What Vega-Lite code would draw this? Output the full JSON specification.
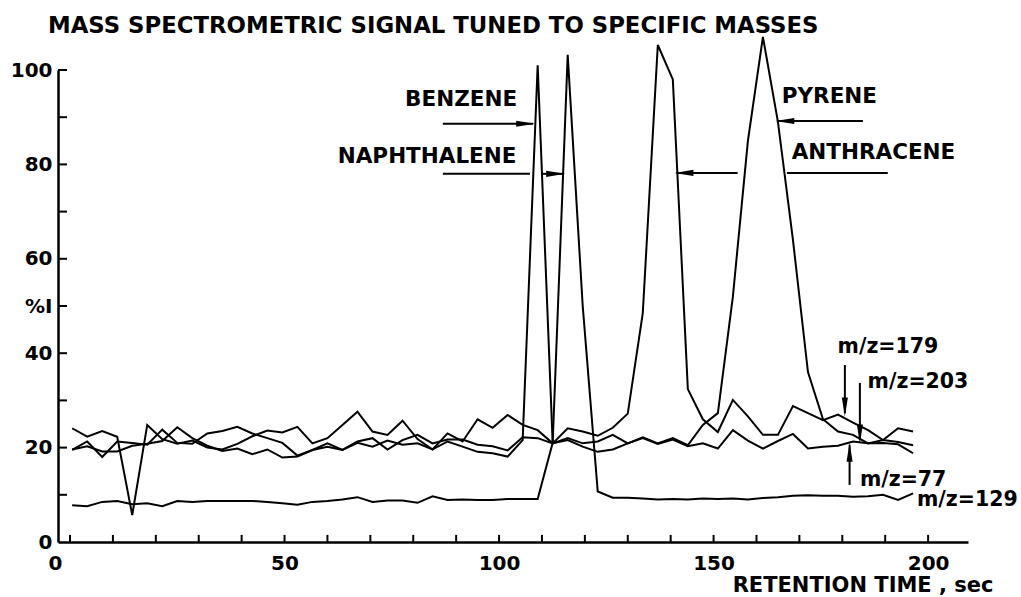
{
  "$schema": "https://vega.github.io/schema/vega-lite/v6.json",
  "width": 910,
  "height": 472,
  "autosize": {"type": "none"},
  "padding": {"left": 58, "top": 70, "right": 53, "bottom": 55},
  "background": "white",
  "config": {"view": {"stroke": null}, "font": "DejaVu Sans"},
  "title": {
    "text": "MASS SPECTROMETRIC SIGNAL TUNED TO SPECIFIC MASSES",
    "anchor": "start",
    "frame": "group",
    "dx": -10,
    "offset": -5,
    "fontSize": 22.8,
    "fontWeight": "bold",
    "font": "DejaVu Sans",
    "color": "black"
  },
  "datasets": {
    "signal": [
      {"ion":"77","t":0.5,"y":19.6},{"ion":"77","t":4,"y":20.3},{"ion":"77","t":7.5,"y":19.2},{"ion":"77","t":11,"y":19.2},{"ion":"77","t":14.5,"y":20.4},{"ion":"77","t":18,"y":20.8},{"ion":"77","t":21.5,"y":21.4},{"ion":"77","t":25,"y":24.3},{"ion":"77","t":28.5,"y":22.0},{"ion":"77","t":32,"y":20.4},
      {"ion":"77","t":35.5,"y":19.3},{"ion":"77","t":39,"y":19.8},{"ion":"77","t":42.5,"y":18.6},{"ion":"77","t":46,"y":19.6},{"ion":"77","t":49.5,"y":17.9},{"ion":"77","t":53,"y":18.1},{"ion":"77","t":56.5,"y":19.5},{"ion":"77","t":60,"y":20.2},{"ion":"77","t":63.5,"y":19.5},{"ion":"77","t":67,"y":21.0},
      {"ion":"77","t":70.5,"y":20.2},{"ion":"77","t":74,"y":21.5},{"ion":"77","t":77.5,"y":20.6},{"ion":"77","t":81,"y":20.9},{"ion":"77","t":84.5,"y":19.6},{"ion":"77","t":88,"y":21.3},{"ion":"77","t":91.5,"y":20.2},{"ion":"77","t":95,"y":19.1},{"ion":"77","t":98.5,"y":18.8},{"ion":"77","t":102,"y":18.1},
      {"ion":"77","t":105.5,"y":21.6},{"ion":"77","t":109,"y":101},{"ion":"77","t":112.5,"y":20.9},{"ion":"77","t":116,"y":21.6},{"ion":"77","t":119.5,"y":20.2},{"ion":"77","t":123,"y":19.1},{"ion":"77","t":126.5,"y":19.6},{"ion":"77","t":130,"y":20.9},{"ion":"77","t":133.5,"y":22.0},{"ion":"77","t":137,"y":20.8},
      {"ion":"77","t":140.5,"y":21.7},{"ion":"77","t":144,"y":20.3},{"ion":"77","t":147.5,"y":20.9},{"ion":"77","t":151,"y":19.8},{"ion":"77","t":154.5,"y":23.7},{"ion":"77","t":158,"y":21.5},{"ion":"77","t":161.5,"y":19.8},{"ion":"77","t":165,"y":21.4},{"ion":"77","t":168.5,"y":22.9},{"ion":"77","t":172,"y":19.8},
      {"ion":"77","t":175.5,"y":20.2},{"ion":"77","t":179,"y":20.4},{"ion":"77","t":182.5,"y":21.3},{"ion":"77","t":186,"y":20.9},{"ion":"77","t":189.5,"y":21.0},{"ion":"77","t":193,"y":20.7},{"ion":"77","t":196.5,"y":18.8},

      {"ion":"129","t":0.5,"y":7.8},{"ion":"129","t":4,"y":7.6},{"ion":"129","t":7.5,"y":8.5},{"ion":"129","t":11,"y":8.7},{"ion":"129","t":14.5,"y":8.0},{"ion":"129","t":18,"y":8.2},{"ion":"129","t":21.5,"y":7.6},{"ion":"129","t":25,"y":8.7},{"ion":"129","t":28.5,"y":8.5},{"ion":"129","t":32,"y":8.7},
      {"ion":"129","t":35.5,"y":8.7},{"ion":"129","t":39,"y":8.7},{"ion":"129","t":42.5,"y":8.7},{"ion":"129","t":46,"y":8.5},{"ion":"129","t":49.5,"y":8.2},{"ion":"129","t":53,"y":7.9},{"ion":"129","t":56.5,"y":8.5},{"ion":"129","t":60,"y":8.7},{"ion":"129","t":63.5,"y":9.0},{"ion":"129","t":67,"y":9.5},
      {"ion":"129","t":70.5,"y":8.5},{"ion":"129","t":74,"y":8.8},{"ion":"129","t":77.5,"y":8.8},{"ion":"129","t":81,"y":8.3},{"ion":"129","t":84.5,"y":9.7},{"ion":"129","t":88,"y":8.9},{"ion":"129","t":91.5,"y":9.0},{"ion":"129","t":95,"y":8.9},{"ion":"129","t":98.5,"y":8.9},{"ion":"129","t":102,"y":9.1},
      {"ion":"129","t":105.5,"y":9.1},{"ion":"129","t":109,"y":9.1},{"ion":"129","t":112.5,"y":21.0},{"ion":"129","t":116,"y":103.2},{"ion":"129","t":119.5,"y":50},{"ion":"129","t":123,"y":10.7},{"ion":"129","t":126.5,"y":9.4},{"ion":"129","t":130,"y":9.4},{"ion":"129","t":133.5,"y":9.2},{"ion":"129","t":137,"y":9.0},
      {"ion":"129","t":140.5,"y":9.1},{"ion":"129","t":144,"y":9.0},{"ion":"129","t":147.5,"y":9.2},{"ion":"129","t":151,"y":9.1},{"ion":"129","t":154.5,"y":9.2},{"ion":"129","t":158,"y":9.0},{"ion":"129","t":161.5,"y":9.3},{"ion":"129","t":165,"y":9.5},{"ion":"129","t":168.5,"y":9.8},{"ion":"129","t":172,"y":9.9},
      {"ion":"129","t":175.5,"y":9.8},{"ion":"129","t":179,"y":9.8},{"ion":"129","t":182.5,"y":9.6},{"ion":"129","t":186,"y":9.7},{"ion":"129","t":189.5,"y":10.0},{"ion":"129","t":193,"y":8.9},{"ion":"129","t":196.5,"y":10.3},

      {"ion":"179","t":0.5,"y":24.1},{"ion":"179","t":4,"y":22.3},{"ion":"179","t":7.5,"y":23.5},{"ion":"179","t":11,"y":22.3},{"ion":"179","t":14.5,"y":5.7},{"ion":"179","t":18,"y":24.8},{"ion":"179","t":21.5,"y":21.8},{"ion":"179","t":25,"y":20.8},{"ion":"179","t":28.5,"y":21.5},{"ion":"179","t":32,"y":20.0},
      {"ion":"179","t":35.5,"y":19.6},{"ion":"179","t":39,"y":20.8},{"ion":"179","t":42.5,"y":22.4},{"ion":"179","t":46,"y":23.6},{"ion":"179","t":49.5,"y":23.2},{"ion":"179","t":53,"y":24.4},{"ion":"179","t":56.5,"y":20.9},{"ion":"179","t":60,"y":22.0},{"ion":"179","t":63.5,"y":24.8},{"ion":"179","t":67,"y":27.6},
      {"ion":"179","t":70.5,"y":23.4},{"ion":"179","t":74,"y":22.7},{"ion":"179","t":77.5,"y":25.7},{"ion":"179","t":81,"y":21.8},{"ion":"179","t":84.5,"y":19.6},{"ion":"179","t":88,"y":23.0},{"ion":"179","t":91.5,"y":21.3},{"ion":"179","t":95,"y":26.0},{"ion":"179","t":98.5,"y":24.2},{"ion":"179","t":102,"y":26.9},
      {"ion":"179","t":105.5,"y":24.8},{"ion":"179","t":109,"y":23.7},{"ion":"179","t":112.5,"y":20.9},{"ion":"179","t":116,"y":24.1},{"ion":"179","t":119.5,"y":23.4},{"ion":"179","t":123,"y":22.5},{"ion":"179","t":126.5,"y":24.2},{"ion":"179","t":130,"y":27.2},{"ion":"179","t":133.5,"y":48.5},{"ion":"179","t":137,"y":105.3},
      {"ion":"179","t":140.5,"y":98.0},{"ion":"179","t":144,"y":32.4},{"ion":"179","t":147.5,"y":26.0},{"ion":"179","t":151,"y":23.3},{"ion":"179","t":154.5,"y":30.1},{"ion":"179","t":158,"y":26.6},{"ion":"179","t":161.5,"y":22.7},{"ion":"179","t":165,"y":22.7},{"ion":"179","t":168.5,"y":28.8},{"ion":"179","t":172,"y":27.3},
      {"ion":"179","t":175.5,"y":25.8},{"ion":"179","t":179,"y":27.0},{"ion":"179","t":182.5,"y":25.3},{"ion":"179","t":186,"y":23.7},{"ion":"179","t":189.5,"y":21.6},{"ion":"179","t":193,"y":24.1},{"ion":"179","t":196.5,"y":23.4},

      {"ion":"203","t":0.5,"y":19.5},{"ion":"203","t":4,"y":21.3},{"ion":"203","t":7.5,"y":18.0},{"ion":"203","t":11,"y":21.3},{"ion":"203","t":14.5,"y":21.0},{"ion":"203","t":18,"y":20.6},{"ion":"203","t":21.5,"y":23.8},{"ion":"203","t":25,"y":21.0},{"ion":"203","t":28.5,"y":20.8},{"ion":"203","t":32,"y":23.0},
      {"ion":"203","t":35.5,"y":23.5},{"ion":"203","t":39,"y":24.4},{"ion":"203","t":42.5,"y":23.0},{"ion":"203","t":46,"y":22.0},{"ion":"203","t":49.5,"y":21.0},{"ion":"203","t":53,"y":18.3},{"ion":"203","t":56.5,"y":19.5},{"ion":"203","t":60,"y":20.9},{"ion":"203","t":63.5,"y":19.5},{"ion":"203","t":67,"y":21.3},
      {"ion":"203","t":70.5,"y":22.0},{"ion":"203","t":74,"y":19.6},{"ion":"203","t":77.5,"y":21.6},{"ion":"203","t":81,"y":22.7},{"ion":"203","t":84.5,"y":20.9},{"ion":"203","t":88,"y":21.7},{"ion":"203","t":91.5,"y":21.7},{"ion":"203","t":95,"y":20.6},{"ion":"203","t":98.5,"y":20.3},{"ion":"203","t":102,"y":19.4},
      {"ion":"203","t":105.5,"y":22.2},{"ion":"203","t":109,"y":22.0},{"ion":"203","t":112.5,"y":20.9},{"ion":"203","t":116,"y":22.0},{"ion":"203","t":119.5,"y":20.9},{"ion":"203","t":123,"y":21.3},{"ion":"203","t":126.5,"y":22.7},{"ion":"203","t":130,"y":20.9},{"ion":"203","t":133.5,"y":22.2},{"ion":"203","t":137,"y":20.9},
      {"ion":"203","t":140.5,"y":22.0},{"ion":"203","t":144,"y":20.5},{"ion":"203","t":147.5,"y":24.8},{"ion":"203","t":151,"y":27.3},{"ion":"203","t":154.5,"y":52},{"ion":"203","t":158,"y":85},{"ion":"203","t":161.5,"y":107},{"ion":"203","t":165,"y":89},{"ion":"203","t":168.5,"y":64},{"ion":"203","t":172,"y":36},
      {"ion":"203","t":175.5,"y":26},{"ion":"203","t":179,"y":23.4},{"ion":"203","t":182.5,"y":22.7},{"ion":"203","t":186,"y":20.9},{"ion":"203","t":189.5,"y":21.6},{"ion":"203","t":193,"y":21.2},{"ion":"203","t":196.5,"y":20.5}
    ],
    "xticks": [
      {"t":0,"y":0},{"t":10,"y":0},{"t":20,"y":0},{"t":30,"y":0},{"t":40,"y":0},{"t":50,"y":0},{"t":60,"y":0},{"t":70,"y":0},{"t":80,"y":0},{"t":90,"y":0},{"t":100,"y":0},
      {"t":110,"y":0},{"t":120,"y":0},{"t":130,"y":0},{"t":140,"y":0},{"t":150,"y":0},{"t":160,"y":0},{"t":170,"y":0},{"t":180,"y":0},{"t":190,"y":0},{"t":200,"y":0}
    ],
    "yticks": [
      {"t":-2.8,"y":10},{"t":-2.8,"y":20},{"t":-2.8,"y":30},{"t":-2.8,"y":40},{"t":-2.8,"y":50},{"t":-2.8,"y":60},{"t":-2.8,"y":70},{"t":-2.8,"y":80},{"t":-2.8,"y":90},{"t":-2.8,"y":100}
    ],
    "arrows": [
      {"t":86.9,"t2":107.9,"y":88.6,"y2":88.6},
      {"t":86.9,"t2":107.2,"y":78.0,"y2":78.0},
      {"t":110.0,"t2":114.9,"y":78.0,"y2":78.0},
      {"t":165.0,"t2":184.8,"y":89.2,"y2":89.2},
      {"t":141.4,"t2":155.6,"y":78.2,"y2":78.2},
      {"t":167.1,"t2":190.6,"y":78.2,"y2":78.2},
      {"t":180.6,"t2":180.6,"y":37.5,"y2":27.3},
      {"t":184.1,"t2":184.1,"y":33.7,"y2":21.6},
      {"t":181.7,"t2":181.7,"y":12.1,"y2":20.6}
    ],
    "heads": [
      {"t":106.2,"y":88.6,"dir":0},
      {"t":113.2,"y":78.0,"dir":0},
      {"t":166.6,"y":89.2,"dir":180},
      {"t":143.1,"y":78.2,"dir":180},
      {"t":180.6,"y":28.6,"dir":90},
      {"t":184.1,"y":22.9,"dir":90},
      {"t":181.7,"y":19.0,"dir":270}
    ],
    "compounds": [
      {"t":78.1,"y":93.6,"text":"BENZENE"},
      {"t":62.4,"y":81.6,"text":"NAPHTHALENE"},
      {"t":165.9,"y":94.3,"text":"PYRENE"},
      {"t":168.2,"y":82.4,"text":"ANTHRACENE"}
    ],
    "masses": [
      {"t":178.9,"y":41.3,"text":"m/z=179"},
      {"t":185.9,"y":33.9,"text":"m/z=203"},
      {"t":184.1,"y":13.1,"text":"m/z=77"},
      {"t":197.4,"y":8.9,"text":"m/z=129"}
    ]
  },
  "encoding": {
    "x": {
      "field": "t", "type": "quantitative",
      "scale": {"domain": [-2.8, 209.3], "nice": false, "zero": false},
      "axis": {
        "values": [0, 50, 100, 150, 200],
        "labelOverlap": false,
        "labelFlush": false,
        "grid": false,
        "ticks": false,
        "tickSize": 0,
        "domainColor": "black", "domainWidth": 2.5,
        "labelFontSize": 20, "labelFontWeight": "bold", "labelColor": "black",
        "labelPadding": 11,
        "labelOffset": {"condition": {"test": "datum.value === 0", "value": -15}, "value": 0},
        "title": "RETENTION TIME , sec",
        "titleFontSize": 21, "titleFontWeight": "bold", "titleColor": "black",
        "titleX": 935, "titleY": 43, "titleAlign": "right", "titleBaseline": "middle"
      }
    },
    "y": {
      "field": "y", "type": "quantitative",
      "scale": {"domain": [0, 100], "nice": false},
      "axis": {
        "values": [0, 20, 40, 50, 60, 80, 100],
        "labelExpr": "datum.value === 50 ? '%I' : datum.label",
        "labelOverlap": false,
        "labelFlush": false,
        "grid": false,
        "ticks": false,
        "tickSize": 0,
        "domainColor": "black", "domainWidth": 2.5,
        "labelFontSize": 20, "labelFontWeight": "bold", "labelColor": "black",
        "labelPadding": 6,
        "title": null
      }
    }
  },
  "layer": [
    {
      "data": {"name": "xticks"},
      "mark": {"type": "rule", "color": "black", "strokeWidth": 2},
      "encoding": {"y2": {"datum": 1.5}}
    },
    {
      "data": {"name": "yticks"},
      "mark": {"type": "rule", "color": "black", "strokeWidth": 2},
      "encoding": {"x2": {"datum": -0.7}}
    },
    {
      "data": {"name": "signal"},
      "mark": {"type": "line", "color": "black", "strokeWidth": 2, "strokeJoin": "miter", "strokeMiterLimit": 4},
      "encoding": {"detail": {"field": "ion"}}
    },
    {
      "data": {"name": "arrows"},
      "mark": {"type": "rule", "color": "black", "strokeWidth": 2},
      "encoding": {"x2": {"field": "t2"}, "y2": {"field": "y2"}}
    },
    {
      "data": {"name": "heads"},
      "mark": {"type": "point", "shape": "M1,0L-1,-0.32L-1,0.32Z", "filled": true, "color": "black", "opacity": 1, "size": 360},
      "encoding": {"angle": {"field": "dir", "type": "quantitative", "scale": null}}
    },
    {
      "data": {"name": "compounds"},
      "mark": {"type": "text", "align": "left", "baseline": "middle", "fontSize": 21.5, "fontWeight": "bold", "color": "black"},
      "encoding": {"text": {"field": "text"}}
    },
    {
      "data": {"name": "masses"},
      "mark": {"type": "text", "align": "left", "baseline": "middle", "fontSize": 20.5, "fontWeight": "bold", "color": "black"},
      "encoding": {"text": {"field": "text"}}
    }
  ]
}
